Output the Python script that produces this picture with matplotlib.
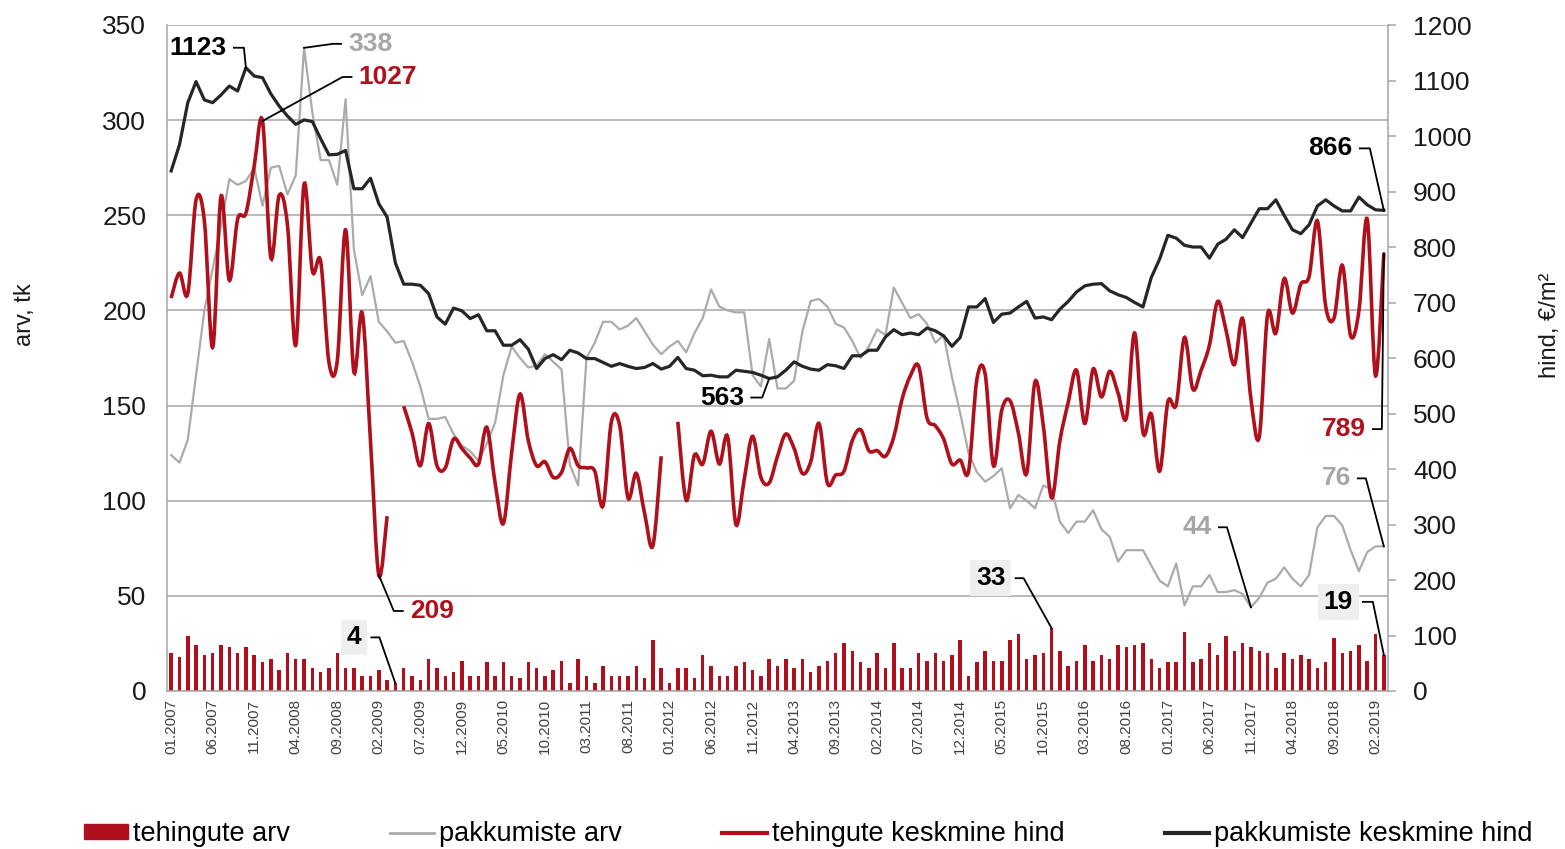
import numpy as np
import matplotlib
matplotlib.use("Agg")
import matplotlib.pyplot as plt
from matplotlib.path import Path
from matplotlib.patches import PathPatch, Patch
from matplotlib.lines import Line2D

# monthly data 01.2007 - 03.2019
tehingute_arv = [20, 18, 29, 24, 19, 20, 24, 23, 20, 23, 19, 15, 17, 11, 20, 17, 17, 12, 10, 12,
                 20, 12, 12, 8, 8, 11, 6, 4, 12, 8, 6, 17, 12, 8, 10, 16, 8,
                 8, 15, 8, 15, 8, 7, 15, 12, 8, 11, 16, 4, 17, 8, 4, 13, 8, 8, 8, 13, 7, 27, 12,
                 4, 12, 12, 7, 19, 13, 8, 8, 13, 15, 11, 8, 17,
                 13, 17, 12, 17, 10, 13, 16, 20, 25, 21, 15, 12, 20, 12, 25, 12, 12, 20, 16, 20,
                 16, 19, 27, 8, 15, 21, 16, 16, 27, 30, 17, 19, 20, 33, 21, 13,
                 16, 24, 16, 19, 17, 24, 23, 24, 25, 17, 12, 15, 15, 31, 15, 17, 25, 19, 29, 21,
                 25, 23, 21, 20, 12, 20, 17, 19, 17, 12, 15, 28, 20, 21, 24, 16, 30, 19]

pakkumiste_arv = [124, 120, 132, 166, 200, 222, 244, 269, 266, 268, 275, 255, 275, 276, 261, 271,
                  338, 304, 279, 279, 266, 311, 232, 208,
                  218, 194, 189, 183, 184, 173, 160, 143, 143, 144, 135, 129, 126, 121, 130, 141,
                  166, 181, 175, 170, 171, 177, 173, 169, 119,
                  108, 175, 183, 194, 194, 190, 192, 196, 189, 182, 177, 181, 184, 178, 188, 196,
                  211, 202, 200, 199, 199, 166, 160, 185,
                  159, 159, 163, 189, 205, 206, 202, 193, 191, 184, 175, 181, 190, 187, 212, 204,
                  196, 198, 193, 183, 187, 165, 146, 125,
                  115, 110, 113, 117, 96, 103, 100, 96, 108, 106, 89, 83, 89, 89, 95, 85, 81, 68,
                  74, 74, 74, 66, 58, 55,
                  67, 45, 55, 55, 61, 52, 52, 53, 51, 44, 49, 57, 59, 65, 59, 55, 61, 86, 92, 92,
                  87, 74, 63, 73, 76, 76]

tehingute_hind = [708, 753, 716, 885, 847, 619, 891, 740, 850, 861, 946, 1027, 781, 893, 840, 623,
                  913, 757, 774, 592, 595, 831, 575, 681, 450, 209, 315,
                  np.nan,
                  513, 465, 406, 482, 406, 402, 454, 437, 420, 409, 475, 375, 302, 430, 535, 451,
                  406, 413, 385, 394, 437, 406, 402, 396, 334, 485, 478, 348, 392, 320, 262, 423,
                  np.nan,
                  485, 344, 425, 409, 468, 409, 458, 300, 382, 459, 385, 375, 423, 463, 437, 392,
                  413, 482, 375, 389, 396, 451, 471, 433, 433, 423, 458, 526, 568, 585, 492, 478,
                  454, 409, 416, 396, 561, 571, 406, 506, 523, 465, 392, 557, 478, 348, 451, 520,
                  578, 482, 580, 530, 576, 537, 492, 645, 466, 499, 396, 521, 516, 637, 544, 578,
                  623, 702, 650, 588, 671, 526, 458, 678, 645, 743, 681, 733, 747, 847, 693, 672,
                  767, 640, 685, 850, 568, 789]

pakkumiste_hind = [937, 984, 1060, 1098, 1065, 1060, 1074, 1090, 1081, 1123, 1108, 1105, 1076, 1054,
                   1036, 1021, 1029, 1026, 995, 966, 967, 974, 905, 905,
                   924, 878, 854, 771, 733, 733, 731, 716, 674, 661, 690, 685, 671, 678, 649, 649,
                   623, 623, 633, 616, 581, 599, 606, 597, 614,
                   609, 599, 599, 592, 585, 590, 585, 581, 583, 590, 580, 585, 601, 581, 578, 568,
                   569, 566, 566, 578, 576, 574, 569, 563,
                   566, 578, 593, 585, 580, 578, 588, 586, 581, 604, 604, 614, 614, 638, 651, 642,
                   645, 642, 654, 649, 640, 621, 637, 692,
                   692, 707, 664, 679, 681, 692, 702, 672, 674, 669, 688, 702, 719, 730, 733, 734,
                   721, 714, 709, 700, 692, 745, 778, 821,
                   816, 803, 800, 800, 780, 805, 814, 831, 817, 843, 869, 869, 885, 857, 831, 824,
                   840, 874, 885, 874, 865, 865, 890, 876, 867, 866]

kuu_sildid = ["01.2007", "06.2007", "11.2007", "04.2008", "09.2008", "02.2009", "07.2009",
              "12.2009", "05.2010", "10.2010", "03.2011", "08.2011", "01.2012", "06.2012",
              "11.2012", "04.2013", "09.2013", "02.2014", "07.2014", "12.2014", "05.2015",
              "10.2015", "03.2016", "08.2016", "01.2017", "06.2017", "11.2017", "04.2018",
              "09.2018", "02.2019"]

RED = "#B0101C"
GREY = "#ABABAB"
BLACK = "#262626"
GRID = "#A6A6A6"

W, H = 1565, 849
fig = plt.figure(figsize=(W / 100, H / 100), dpi=100)
fig.patch.set_facecolor("white")
ax = fig.add_axes([167 / W, 1 - 691 / H, (1388 - 167) / W, (691 - 25) / H])
ax2 = ax.twinx()

x = np.arange(len(tehingute_arv))
ax.bar(x, tehingute_arv, width=0.42, color=RED, zorder=2)
ax.plot(x, pakkumiste_arv, color=GREY, lw=1.6, zorder=3)
ax.set_xlim(-0.5, len(x) - 0.5)
ax.set_ylim(0, 350)
ax.set_yticks(range(0, 351, 50))
ax.yaxis.grid(True, color=GRID, lw=1.1)
ax.set_axisbelow(True)

ax2.set_ylim(0, 1200)
ax2.set_yticks(range(0, 1201, 100))
ax2.plot(x, pakkumiste_hind, color=BLACK, lw=2.3, zorder=3)


# smoothed red line (excel-like bezier), broken where there is no data
def smooth_path(xs, ys):
    verts, codes = [], []
    ys = np.asarray(ys, dtype=float)
    ok = ~np.isnan(ys)
    start = None
    for k in range(len(ys) + 1):
        if k < len(ys) and ok[k]:
            if start is None:
                start = k
            continue
        if start is not None:
            px = np.asarray(xs[start:k], dtype=float)
            py = ys[start:k]
            pts = np.column_stack([px, py])
            verts.append(pts[0])
            codes.append(Path.MOVETO)
            for j in range(len(pts) - 1):
                p0 = pts[max(j - 1, 0)]
                p1, p2 = pts[j], pts[j + 1]
                p3 = pts[min(j + 2, len(pts) - 1)]
                verts += [p1 + (p2 - p0) / 6, p2 - (p3 - p1) / 6, p2]
                codes += [Path.CURVE4] * 3
            start = None
    return Path(verts, codes)


ax2.add_patch(PathPatch(smooth_path(x, tehingute_hind), fill=False, ec=RED, lw=2.6, zorder=4))

# axes styling
for s in ["top"]:
    ax.spines[s].set_visible(False)
    ax2.spines[s].set_visible(False)
ax.spines["right"].set_visible(False)
ax2.spines["left"].set_visible(False)
ax2.spines["bottom"].set_visible(False)
for sp in [ax.spines["left"], ax.spines["bottom"], ax2.spines["right"]]:
    sp.set_color(GRID)
    sp.set_linewidth(1.1)

ax.set_xticks(x[::5])
ax.set_xticklabels(kuu_sildid, rotation=90, fontsize=11, color="#404040", family="Liberation Sans")
ax.tick_params(axis="x", length=0, pad=6)
ax.tick_params(axis="y", length=0, pad=15, labelsize=19, labelcolor="#1a1a1a")
ax2.tick_params(axis="y", length=6, color=GRID, width=1.1, pad=12, labelsize=19, labelcolor="#1a1a1a")
for t in ax.get_yticklabels() + ax2.get_yticklabels():
    t.set_family("Liberation Sans")

fig.text(25 / W, 1 - 315 / H, "arv, tk", rotation=90, ha="center", va="center",
         fontsize=17, family="Liberation Sans", color="#1a1a1a")
fig.text(1550 / W, 1 - 325 / H, "hind, €/m²", rotation=90, ha="center", va="center",
         fontsize=17, family="Liberation Sans", color="#1a1a1a")

# value labels with leader lines
to_fig = fig.transFigure.inverted()
leaders = [
    ("1123", ax2, pakkumiste_hind, 9, -2, 20, 10, -1, "black", False),
    ("338", ax, pakkumiste_arv, 16, 29, 4, 8, 1, "#A6A6A6", False),
    ("1027", ax2, tehingute_hind, 11, 80, 44, 9, 1, RED, False),
    ("209", ax2, tehingute_hind, 25, 15, -36, 9, 1, RED, False),
    ("563", ax2, pakkumiste_hind, 72, -7, -19, 11, -1, "black", False),
    ("4", ax, tehingute_arv, 27, -16, 46, 8, -1, "black", True),
    ("33", ax, tehingute_arv, 106, -28, 50, 8, -1, "black", True),
    ("44", ax, pakkumiste_arv, 130, -24, 80, 8, -1, "#A6A6A6", False),
    ("866", ax2, pakkumiste_hind, 146, -14, 62, 10, -1, "black", False),
    ("789", ax2, tehingute_hind, 146, -2, -176, 9, -1, RED, False),
    ("76", ax, pakkumiste_arv, 146, -18, 68, 8, -1, "#A6A6A6", False),
    ("19", ax, tehingute_arv, 146, -11, 53, 10, -1, "black", True),
]
for label, a, series, idx, dx, dy, stub, side, col, box in leaders:
    px, py = a.transData.transform((x[idx], series[idx]))
    cx, cy = px + dx, py + dy
    sx = cx + side * stub
    pts = to_fig.transform([(px, py), (cx, cy), (sx, cy)])
    fig.add_artist(Line2D(pts[:, 0], pts[:, 1], color="black", lw=1.3, transform=fig.transFigure))
    gap = 10 if box else 7
    tx, ty = to_fig.transform((sx + side * gap, cy))
    kw = dict(bbox=dict(boxstyle="square,pad=0.22", fc="#EFEFEF", ec="none")) if box else {}
    fig.text(tx, ty, label, ha="left" if side > 0 else "right", va="center", fontsize=19,
             fontweight="bold", color=col, family="Liberation Sans", **kw)

handles = [Patch(facecolor=RED, edgecolor=RED),
           Line2D([], [], color=GREY, lw=2),
           Line2D([], [], color=RED, lw=3),
           Line2D([], [], color=BLACK, lw=3)]
labels = ["tehingute arv", "pakkumiste arv", "tehingute keskmine hind", "pakkumiste keskmine hind"]
fig.legend(handles, labels, loc="center", bbox_to_anchor=(808 / W, 1 - 834 / H), ncol=4,
           frameon=False, prop={"family": "Liberation Sans", "size": 19.5},
           handlelength=1.63, handleheight=0.45, handletextpad=0.19, columnspacing=3.7,
           borderpad=0, borderaxespad=0)

fig.savefig("out.png", dpi=100, facecolor="white")
